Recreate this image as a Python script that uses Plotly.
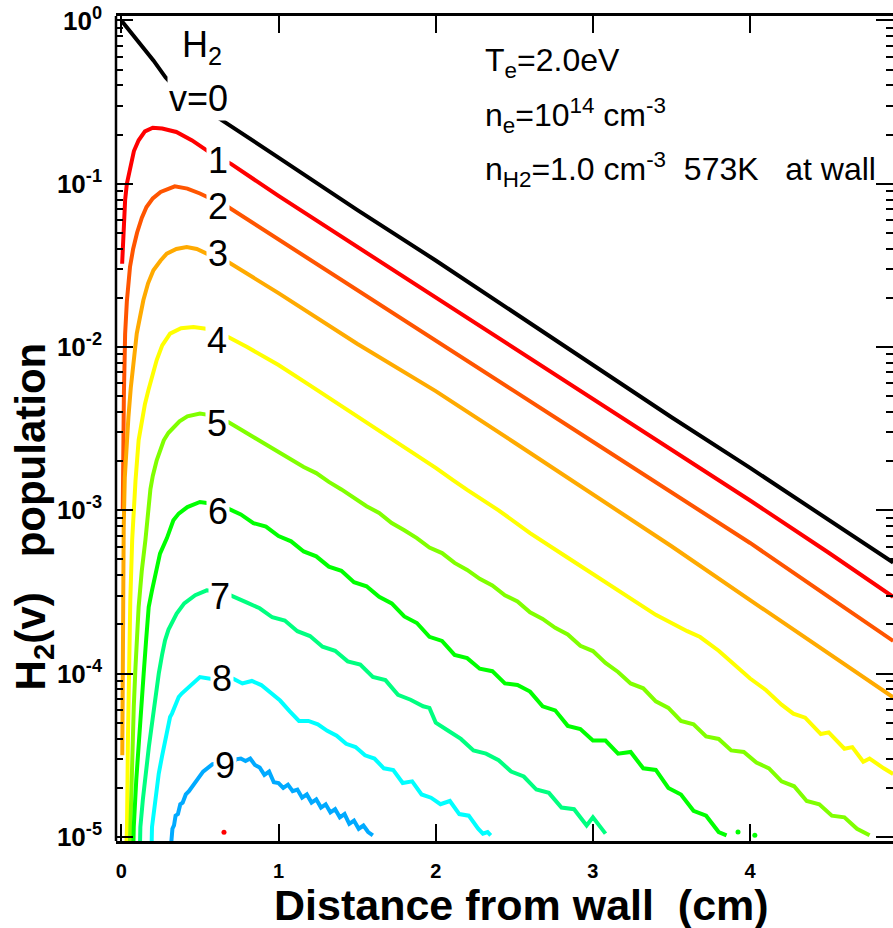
import plotly.graph_objects as go

FONT = "Liberation Sans, Arial, Helvetica, sans-serif"

# ---------------- data (x in cm, populations given as log10 values) ----------------
x_v0 = [0.0, 0.034, 0.119, 0.204, 0.282, 0.36, 0.45, 0.6, 1.0, 1.5, 2.0, 2.5, 3.0, 3.5, 4.0, 4.5, 4.91]
lg_v0 = [0.0, -0.041, -0.143, -0.245, -0.35, -0.43, -0.50, -0.586, -0.84, -1.16, -1.47, -1.79, -2.11, -2.43, -2.74, -3.06, -3.32]

x_v1 = [0.005, 0.01, 0.015, 0.024, 0.035, 0.055, 0.08, 0.11, 0.15, 0.2, 0.26, 0.35, 0.45, 0.55, 0.7, 1.0, 1.5,
        2.0, 2.5, 3.0, 3.5, 4.0, 4.5, 4.91]
lg_v1 = [-1.49, -1.35, -1.23, -1.10, -1.0, -0.898, -0.80, -0.734, -0.68, -0.657, -0.662, -0.683, -0.735, -0.80,
         -0.88, -1.075, -1.385, -1.695, -2.005, -2.315, -2.63, -2.94, -3.26, -3.53]

x_v2 = [0.009, 0.012, 0.016, 0.024, 0.035, 0.055, 0.075, 0.1, 0.13, 0.16, 0.2, 0.25, 0.34, 0.42, 0.5, 0.68, 1.0,
        1.5, 2.0, 2.5, 3.0, 3.5, 4.0, 4.5, 4.91]
lg_v2 = [-3.0, -2.6, -2.3, -1.92, -1.72, -1.51, -1.40, -1.30, -1.21, -1.143, -1.09, -1.05, -1.016, -1.03, -1.06,
         -1.143, -1.34, -1.65, -1.957, -2.27, -2.58, -2.89, -3.20, -3.53, -3.80]

x_v3 = [0.006, 0.008, 0.011, 0.015, 0.022, 0.03, 0.036, 0.045, 0.06, 0.075, 0.098, 0.12, 0.14, 0.17, 0.204, 0.25,
        0.289, 0.35, 0.416, 0.48, 0.543, 0.68, 1.0, 1.5, 2.0, 2.5, 3.0, 3.5, 4.0, 4.5, 4.91]
lg_v3 = [-4.5, -4.0, -3.5, -3.1, -2.8, -2.65, -2.57, -2.43, -2.25, -2.10, -1.918, -1.81, -1.714, -1.61, -1.53,
         -1.47, -1.428, -1.40, -1.388, -1.40, -1.428, -1.48, -1.67, -1.98, -2.27, -2.585, -2.9, -3.22, -3.55,
         -3.88, -4.145]

x_v4 = [0.032, 0.036, 0.042, 0.047, 0.057, 0.069, 0.08, 0.09, 0.11, 0.13, 0.15, 0.172, 0.2, 0.225, 0.26, 0.31,
        0.38, 0.459, 0.55, 0.68, 0.80, 1.00, 1.20, 1.40, 1.54, 1.60, 1.80, 2.00, 2.112, 2.20, 2.40, 2.60, 2.833,
        3.00, 3.257, 3.40, 3.60, 3.682, 3.80, 4.00, 4.10, 4.20, 4.275, 4.35, 4.45, 4.50, 4.60, 4.65, 4.72, 4.76,
        4.85, 4.91]
lg_v4 = [-5.05, -4.94, -4.4, -4.0, -3.55, -3.18, -2.98, -2.82, -2.57, -2.45, -2.35, -2.265, -2.16, -2.08, -1.99,
         -1.918, -1.885, -1.877, -1.89, -1.939, -2.00, -2.11, -2.235, -2.36, -2.449, -2.487, -2.61, -2.74, -2.816,
         -2.875, -3.0, -3.14, -3.286, -3.39, -3.551, -3.64, -3.74, -3.776, -3.86, -4.03, -4.10, -4.19, -4.245,
         -4.27, -4.37, -4.36, -4.46, -4.45, -4.54, -4.52, -4.58, -4.615]

x_v5 = [0.055, 0.06, 0.068, 0.079, 0.09, 0.1, 0.11, 0.13, 0.153, 0.185, 0.2, 0.225, 0.25, 0.27, 0.3, 0.331, 0.37,
        0.42, 0.5, 0.58, 0.68, 0.76, 0.84, 0.92, 1.00, 1.08, 1.16, 1.24, 1.32, 1.40, 1.48, 1.56, 1.64, 1.72, 1.80,
        1.88, 1.96, 2.04, 2.12, 2.20, 2.28, 2.36, 2.44, 2.52, 2.60, 2.68, 2.76, 2.84, 2.92, 3.00, 3.08, 3.16, 3.24,
        3.32, 3.40, 3.48, 3.56, 3.64, 3.72, 3.80, 3.88, 3.96, 4.04, 4.12, 4.20, 4.28, 4.36, 4.44, 4.52, 4.60,
        4.68, 4.76]
lg_v5 = [-5.03, -4.80, -4.52, -4.205, -3.96, -3.76, -3.592, -3.37, -3.184, -2.87, -2.79, -2.694, -2.625, -2.571,
         -2.525, -2.49, -2.455, -2.425, -2.408, -2.42, -2.459, -2.505, -2.552, -2.596, -2.641, -2.69, -2.735,
         -2.772, -2.826, -2.872, -2.925, -2.975, -3.016, -3.078, -3.122, -3.17, -3.228, -3.262, -3.322, -3.365,
         -3.42, -3.46, -3.52, -3.558, -3.625, -3.665, -3.72, -3.76, -3.83, -3.862, -3.935, -3.99, -4.06, -4.09,
         -4.17, -4.21, -4.29, -4.31, -4.385, -4.40, -4.47, -4.48, -4.545, -4.58, -4.66, -4.69, -4.78, -4.80,
         -4.87, -4.88, -4.95, -4.99]

x_v6 = [0.077, 0.079, 0.095, 0.11, 0.125, 0.142, 0.158, 0.174, 0.195, 0.216, 0.246, 0.29, 0.331, 0.365, 0.42,
        0.50, 0.58, 0.68, 0.76, 0.84, 0.92, 1.00, 1.08, 1.16, 1.24, 1.32, 1.40, 1.48, 1.56, 1.64, 1.72, 1.80, 1.88,
        1.96, 2.04, 2.12, 2.20, 2.28, 2.36, 2.44, 2.52, 2.60, 2.68, 2.76, 2.84, 2.92, 3.00, 3.08, 3.16, 3.24, 3.32,
        3.40, 3.48, 3.56, 3.64, 3.72, 3.80, 3.85]
lg_v6 = [-5.03, -4.94, -4.65, -4.41, -4.2, -4.0, -3.79, -3.592, -3.49, -3.388, -3.265, -3.17, -3.061, -3.02, -2.98,
         -2.949, -2.96, -2.99, -3.025, -3.078, -3.10, -3.158, -3.19, -3.252, -3.282, -3.345, -3.37, -3.44, -3.465,
         -3.53, -3.57, -3.65, -3.69, -3.775, -3.80, -3.885, -3.905, -3.97, -3.985, -4.06, -4.07, -4.11, -4.20,
         -4.225, -4.32, -4.34, -4.41, -4.41, -4.49, -4.48, -4.58, -4.59, -4.70, -4.74, -4.84, -4.87, -4.97, -4.99]

x_v7 = [0.119, 0.121, 0.137, 0.153, 0.175, 0.195, 0.215, 0.238, 0.26, 0.278, 0.30, 0.33, 0.352, 0.40, 0.47, 0.543,
        0.62, 0.692, 0.72, 0.80, 0.88, 0.96, 1.04, 1.12, 1.20, 1.28, 1.36, 1.44, 1.52, 1.60, 1.68, 1.76, 1.84,
        1.92, 1.96, 2.00, 2.08, 2.16, 2.24, 2.32, 2.40, 2.48, 2.56, 2.64, 2.72, 2.80, 2.88, 2.96, 3.00, 3.04, 3.08]
lg_v7 = [-5.03, -4.94, -4.77, -4.612, -4.45, -4.306, -4.15, -4.0, -3.88, -3.796, -3.73, -3.67, -3.633, -3.57, -3.52,
         -3.49, -3.50, -3.52, -3.53, -3.565, -3.60, -3.655, -3.675, -3.74, -3.77, -3.835, -3.86, -3.925, -3.945,
         -4.02, -4.04, -4.13, -4.16, -4.20, -4.21, -4.30, -4.35, -4.40, -4.47, -4.49, -4.53, -4.60, -4.63, -4.71,
         -4.73, -4.82, -4.83, -4.93, -4.88, -4.93, -4.98]

x_v8 = [0.193, 0.195, 0.216, 0.238, 0.26, 0.28, 0.31, 0.322, 0.365, 0.384, 0.44, 0.50, 0.565, 0.64, 0.712, 0.77,
        0.83, 0.89, 0.95, 1.01, 1.07, 1.13, 1.19, 1.25, 1.31, 1.37, 1.43, 1.49, 1.55, 1.61, 1.67, 1.73, 1.79, 1.85,
        1.91, 1.97, 2.03, 2.09, 2.15, 2.21, 2.27, 2.30, 2.33, 2.35]
lg_v8 = [-5.03, -4.94, -4.78, -4.612, -4.50, -4.408, -4.266, -4.245, -4.143, -4.122, -4.07, -4.021, -4.031, -4.03,
         -4.031, -4.06, -4.045, -4.07, -4.12, -4.165, -4.23, -4.29, -4.29, -4.31, -4.35, -4.38, -4.43, -4.45,
         -4.50, -4.52, -4.58, -4.59, -4.67, -4.66, -4.74, -4.76, -4.80, -4.78, -4.86, -4.87, -4.95, -4.98, -4.97,
         -4.99]

x_v9 = [0.318, 0.325, 0.335, 0.345, 0.36, 0.375, 0.39, 0.41, 0.43, 0.45, 0.47, 0.49, 0.52, 0.55, 0.58, 0.62, 0.66,
        0.70, 0.73, 0.76, 0.79, 0.82, 0.85, 0.88, 0.91, 0.94, 0.97, 1.00, 1.03, 1.06, 1.09, 1.12, 1.15, 1.18, 1.21,
        1.24, 1.27, 1.30, 1.33, 1.36, 1.39, 1.42, 1.45, 1.48, 1.51, 1.54, 1.57, 1.60]
lg_v9 = [-5.03, -4.95, -4.93, -4.87, -4.86, -4.80, -4.79, -4.74, -4.72, -4.69, -4.66, -4.64, -4.60, -4.58, -4.555,
         -4.55, -4.53, -4.56, -4.525, -4.52, -4.535, -4.52, -4.56, -4.575, -4.62, -4.60, -4.665, -4.67, -4.70,
         -4.68, -4.72, -4.71, -4.76, -4.74, -4.79, -4.77, -4.82, -4.80, -4.85, -4.83, -4.88, -4.86, -4.92, -4.90,
         -4.95, -4.93, -4.97, -4.99]

# stray single samples near the lower limit
stray_v1_x = [0.653]
stray_v1_lg = [-4.972]
stray_v6_x = [3.923, 4.03]
stray_v6_lg = [-4.97, -4.99]

level_names = ["0", "1", "2", "3", "4", "5", "6", "7", "8", "9"]
level_colors = ["#000000", "#FF0000", "#FF5500", "#FFAA00", "#FFFF00", "#80FF00",
                "#00FF00", "#00FF80", "#00FFFF", "#00AAFF"]

x_ticks = [0, 1, 2, 3, 4]
y_ticks = [1e-5, 1e-4, 1e-3, 1e-2, 1e-1, 1e0]
y_tick_text = ["<b>10<sup>-5</sup></b>", "<b>10<sup>-4</sup></b>", "<b>10<sup>-3</sup></b>",
               "<b>10<sup>-2</sup></b>", "<b>10<sup>-1</sup></b>", "<b>10<sup>0</sup></b>"]
y_minor = [m * 10.0 ** e for e in range(-5, 0) for m in range(2, 10)]

series_x = [x_v0, x_v1, x_v2, x_v3, x_v4, x_v5, x_v6, x_v7, x_v8, x_v9]
series_lg = [lg_v0, lg_v1, lg_v2, lg_v3, lg_v4, lg_v5, lg_v6, lg_v7, lg_v8, lg_v9]


def to_pop(lg):
    return [10.0 ** v for v in lg]


fig = go.Figure()
for name, col, xs, lg in zip(level_names, level_colors, series_x, series_lg):
    fig.add_trace(go.Scatter(x=xs, y=to_pop(lg), mode="lines", name="v=" + name,
                             line=dict(color=col, width=4), hoverinfo="skip"))

fig.add_trace(go.Scatter(x=stray_v1_x, y=to_pop(stray_v1_lg), mode="markers",
                         marker=dict(color="#FF0000", size=5), hoverinfo="skip"))
fig.add_trace(go.Scatter(x=stray_v6_x, y=to_pop(stray_v6_lg), mode="markers",
                         marker=dict(color="#00FF00", size=5), hoverinfo="skip"))

# curve labels (white boxes interrupt the lines like in the original)
label_font = dict(family=FONT, size=36, color="black")
labels = [
    ("H<sub>2</sub>", 0.376, -0.160, "left"),
    ("v=0", 0.491, -0.477, "center"),
    ("1", 0.612, -0.857, "center"),
    ("2", 0.615, -1.138, "center"),
    ("3", 0.615, -1.429, "center"),
    ("4", 0.609, -1.959, "center"),
    ("5", 0.609, -2.470, "center"),
    ("6", 0.615, -3.009, "center"),
    ("7", 0.628, -3.530, "center"),
    ("8", 0.641, -4.032, "center"),
    ("9", 0.660, -4.565, "center"),
]
for txt, xv, yv, anc in labels:
    fig.add_annotation(x=xv, y=yv, xref="x", yref="y", text=txt, showarrow=False,
                       font=label_font, bgcolor="white" if txt != "H<sub>2</sub>" else "rgba(0,0,0,0)",
                       borderpad=1, xanchor=anc, yanchor="middle")

info_font = dict(family=FONT, size=32, color="black")
info = [
    ("T<sub>e</sub>=2.0eV", 0.944),
    ("n<sub>e</sub>=10<sup>14</sup> cm<sup>-3</sup>", 0.879),
    ("n<sub>H2</sub>=1.0 cm<sup>-3</sup>&nbsp; 573K &nbsp; at wall", 0.814),
]
for txt, yp in info:
    fig.add_annotation(x=0.4723, y=yp, xref="paper", yref="paper", text=txt, showarrow=False,
                       font=info_font, xanchor="left", yanchor="middle")

fig.add_annotation(x=0.522, y=-0.077, xref="paper", yref="paper",
                   text="<b>Distance from wall&nbsp; (cm)</b>", showarrow=False,
                   font=dict(family=FONT, size=43, color="black"), xanchor="center", yanchor="middle")
fig.add_annotation(x=-0.106, y=0.393, xref="paper", yref="paper",
                   text="<b>H<sub>2</sub>(v)&nbsp;&nbsp; population</b>", showarrow=False,
                   font=dict(family=FONT, size=42, color="black"), textangle=-90,
                   xanchor="center", yanchor="middle")

fig.add_shape(type="line", xref="paper", yref="paper", x0=0, x1=0, y0=0, y1=1,
              line=dict(color="black", width=2.5))

fig.update_layout(
    width=893, height=928,
    margin=dict(l=116, r=0, t=16, b=87),
    paper_bgcolor="white", plot_bgcolor="white",
    showlegend=False,
    xaxis=dict(range=[-0.034, 4.909], showgrid=False, zeroline=False,
               showline=True, linecolor="black", linewidth=2.5, mirror="ticks",
               ticks="inside", ticklen=17, tickwidth=2, tickcolor="black",
               tickmode="array", tickvals=x_ticks, ticktext=[str(t) for t in x_ticks],
               tickfont=dict(family=FONT, size=20, color="black", weight="bold"),
               ticklabelstandoff=10),
    yaxis=dict(type="log", range=[-5.025, 0.027], showgrid=False, zeroline=False,
               showline=False, mirror="ticks",
               ticks="inside", ticklen=17, tickwidth=2, tickcolor="black",
               tickmode="array", tickvals=y_ticks, ticktext=y_tick_text,
               tickfont=dict(family=FONT, size=26, color="black", weight="bold"),
               ticklabelstandoff=13,
               minor=dict(tickmode="array", tickvals=y_minor, ticks="inside", ticklen=7,
                          tickwidth=2, tickcolor="black", showgrid=False)),
)

fig.write_html("out.html")
